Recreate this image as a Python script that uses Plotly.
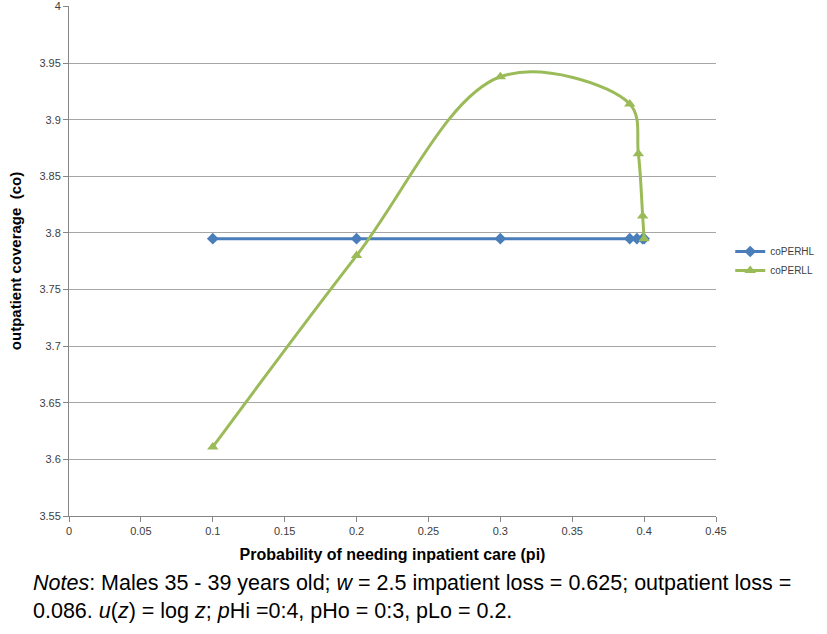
import plotly.graph_objects as go

pi_hl = [0.1, 0.2, 0.3, 0.39, 0.395, 0.399, 0.4]
co_hl = [3.795, 3.795, 3.795, 3.795, 3.795, 3.795, 3.795]
pi_ll = [0.1, 0.2, 0.3, 0.39, 0.396, 0.399, 0.4]
co_ll = [3.611, 3.780, 3.938, 3.914, 3.870, 3.815, 3.795]
x_ticks = [0, 0.05, 0.1, 0.15, 0.2, 0.25, 0.3, 0.35, 0.4, 0.45]
y_ticks = [3.55, 3.6, 3.65, 3.7, 3.75, 3.8, 3.85, 3.9, 3.95, 4]

fig = go.Figure()
fig.add_trace(go.Scatter(x=pi_hl, y=co_hl, name="coPERHL", mode="lines+markers",
                         line=dict(color="#4A7EBB", width=3),
                         marker=dict(symbol="diamond", size=9, color="#4A7EBB")))
fig.add_trace(go.Scatter(x=pi_ll, y=co_ll, name="coPERLL", mode="lines+markers",
                         line=dict(color="#9BBB59", width=3, shape="spline", smoothing=1),
                         marker=dict(symbol="triangle-up", size=10, color="#9BBB59")))

fig.update_layout(
    width=827, height=634,
    margin=dict(l=69, r=111, t=6, b=118),
    plot_bgcolor="white", paper_bgcolor="white",
    font=dict(family="Liberation Sans, Arial, sans-serif", color="#404040"),
    legend=dict(x=1.022, y=0.5, xanchor="left", yanchor="middle", itemwidth=30,
                font=dict(size=10, color="#404040"), tracegroupgap=4),
    xaxis=dict(range=[0, 0.45], tickmode="array", tickvals=x_ticks,
               ticktext=[f"{v:g}" for v in x_ticks], showgrid=False,
               showline=True, linecolor="#868686", linewidth=1,
               ticks="outside", ticklen=5, tickcolor="#868686",
               tickfont=dict(size=11, color="#404040"),
               title=dict(text="<b>Probability of needing inpatient care (pi)</b>",
                          font=dict(size=16, color="#000000"), standoff=12),
               zeroline=False),
    yaxis=dict(range=[3.55, 4.0005], tickmode="array", tickvals=y_ticks,
               ticktext=[f"{v:g}" for v in y_ticks], showgrid=True,
               gridcolor="#A6A6A6", gridwidth=1, ticklabeloverflow="allow",
               automargin="left",
               showline=True, linecolor="#868686", linewidth=1,
               ticks="outside", ticklen=5, tickcolor="#868686",
               tickfont=dict(size=11, color="#404040"),
               title=dict(text="<b>outpatient coverage  (co)</b>",
                          font=dict(size=15, color="#000000"), standoff=14),
               zeroline=False),
)

fig.add_annotation(xref="paper", yref="paper", x=-0.058, y=-0.104, xanchor="left", yanchor="top",
                   align="left", showarrow=False,
                   font=dict(size=21.5, color="#000000", family="Liberation Sans, Arial"),
                   text="<i>Notes</i>: Males 35 - 39 years old; <i>w</i> = 2.5 impatient loss = 0.625; outpatient loss =<br>"
                        "0.086. <i>u</i>(<i>z</i>) = log <i>z</i>; <i>p</i>Hi =0:4, pHo = 0:3, pLo = 0.2.")

fig.write_html("out.html")
